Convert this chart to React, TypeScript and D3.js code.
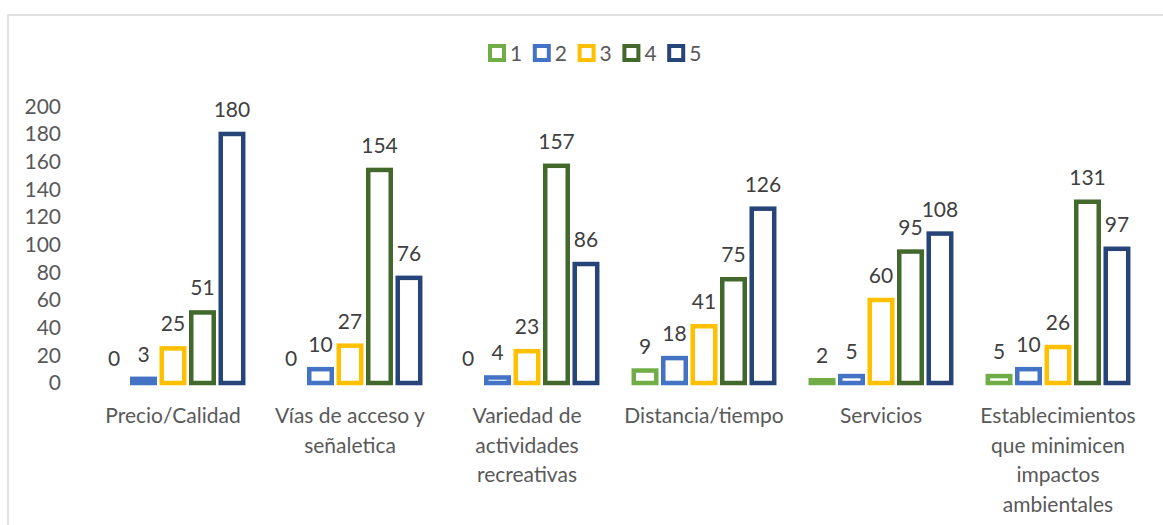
import React from "react";
import * as d3 from "d3";

const categories: string[][] = [
  ["Precio/Calidad"],
  ["Vías de acceso y", "señaletica"],
  ["Variedad de", "actividades", "recreativas"],
  ["Distancia/tiempo"],
  ["Servicios"],
  ["Establecimientos", "que minimicen", "impactos", "ambientales"],
];
const seriesNames = ["1", "2", "3", "4", "5"];
const s1 = [0, 0, 0, 9, 2, 5];
const s2 = [3, 10, 4, 18, 5, 10];
const s3 = [25, 27, 23, 41, 60, 26];
const s4 = [51, 154, 157, 75, 95, 131];
const s5 = [180, 76, 86, 126, 108, 97];
const seriesValues = [s1, s2, s3, s4, s5];
const colors = ["#70AD47", "#4472C4", "#FFC000", "#43682B", "#264478"];
const yTicks = [0, 20, 40, 60, 80, 100, 120, 140, 160, 180, 200];

const W = 1163;
const H = 525;
const FONT = "Lato, 'Open Sans', sans-serif";
const FS = 21;

export default function App() {
  const x0 = d3
    .scaleBand<number>()
    .domain(categories.map((_, i) => i))
    .range([84.5, 1146.5])
    .paddingInner(0)
    .paddingOuter(0);
  const x1 = d3
    .scaleBand<number>()
    .domain(seriesNames.map((_, i) => i))
    .range([0, x0.bandwidth()])
    .paddingInner(7 / 29.5)
    .paddingOuter(0.62);
  const y = d3.scaleLinear().domain([0, 200]).range([383, 106.3]);
  const sw = 4.5;

  return (
    <svg
      width={W}
      height={H}
      style={{ position: "absolute", left: 0, top: 0 }}
      fontFamily={FONT}
    >
      <rect x={0} y={0} width={W} height={H} fill="#fff" />
      <rect
        x={8}
        y={15}
        width={W + 20}
        height={H + 20}
        fill="none"
        stroke="#D9D9D9"
        strokeWidth={1.5}
      />
      {/* legend */}
      {seriesNames.map((n, i) => {
        const lx = 488 + i * 44.8;
        return (
          <g key={n}>
            <rect
              x={lx + 2}
              y={53 - 7}
              width={14}
              height={14}
              fill="#fff"
              stroke={colors[i]}
              strokeWidth={4}
            />
            <text
              x={lx + 22}
              y={54}
              dy="0.35em"
              fontSize={FS}
              fill="#595959"
            >
              {n}
            </text>
          </g>
        );
      })}
      {/* y axis ticks */}
      {yTicks.map((t) => (
        <text
          key={t}
          x={61}
          y={y(t)}
          dy="0.35em"
          textAnchor="end"
          fontSize={FS}
          fill="#595959"
        >
          {t}
        </text>
      ))}
      {/* bars */}
      {categories.map((cat, ci) => (
        <g key={ci} transform={`translate(${x0(ci)},0)`}>
          {seriesValues.map((vals, si) => {
            const v = vals[ci];
            const bx = x1(si)!;
            const bw = x1.bandwidth();
            const top = y(v);
            const h = y(0) - top;
            return (
              <g key={si}>
                {v > 0 && (
                  <rect
                    x={bx}
                    y={top}
                    width={bw}
                    height={h}
                    fill="#fff"
                    stroke={colors[si]}
                    strokeWidth={sw}
                  />
                )}
                <text
                  x={bx + bw / 2}
                  y={top - 17}
                  textAnchor="middle"
                  fontSize={FS}
                  fill="#404040"
                >
                  {v}
                </text>
              </g>
            );
          })}
          {cat.map((line, li) => (
            <text
              key={li}
              x={x0.bandwidth() / 2}
              y={423 + li * 29.5}
              textAnchor="middle"
              fontSize={FS}
              fill="#595959"
            >
              {line}
            </text>
          ))}
        </g>
      ))}
    </svg>
  );
}
